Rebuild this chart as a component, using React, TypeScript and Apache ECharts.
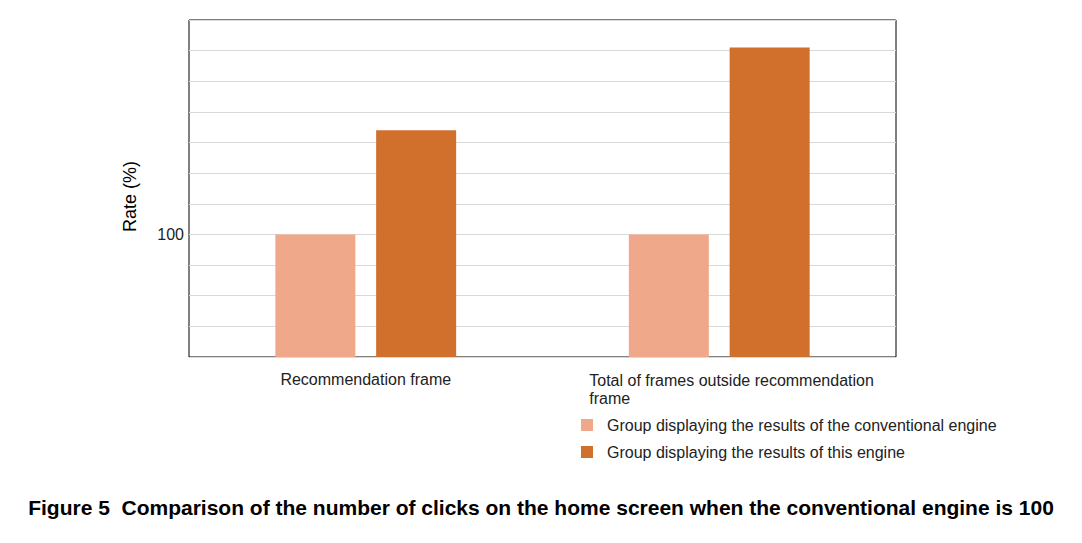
import React, { useEffect, useRef } from 'react';
import * as echarts from 'echarts';

const categories = ['Recommendation frame', 'Total of frames outside recommendation frame'];
const seriesNames = [
  'Group displaying the results of the conventional engine',
  'Group displaying the results of this engine',
];
const conventionalValues = [100, 100];
const thisEngineValues = [134, 161];
const yLabels = [100];

const FONT = '"Liberation Sans", Arial, sans-serif';

const App: React.FC = () => {
  const chartRef = useRef<HTMLDivElement>(null);

  useEffect(() => {
    document.body.style.margin = '0';
    if (!chartRef.current) return;
    const chart = echarts.init(chartRef.current, undefined, { renderer: 'svg' });

    chart.setOption({
      animation: false,
      title: {
        text: 'Figure 5  Comparison of the number of clicks on the home screen when the conventional engine is 100',
        left: 'center',
        top: 492,
        textStyle: { fontFamily: FONT, fontSize: 21, fontWeight: 'bold', color: '#000' },
      },
      legend: {
        orient: 'vertical',
        left: 581,
        top: 417,
        padding: 0,
        icon: 'rect',
        itemWidth: 12,
        itemHeight: 12,
        itemGap: 11,
        data: seriesNames,
        textStyle: { fontFamily: FONT, fontSize: 16, lineHeight: 16, color: '#222', padding: [0, 0, 0, 9] },
      },
      grid: {
        left: 189,
        top: 20,
        right: 186,
        bottom: 186,
        show: true,
        borderColor: '#000',
        borderWidth: 1,
      },
      xAxis: {
        type: 'category',
        data: categories,
        axisLine: { show: false },
        axisTick: { show: false },
        axisLabel: {
          margin: 14,
          interval: 0,
          fontFamily: FONT,
          fontSize: 16,
          color: '#222',
          formatter: (v: string) => {
            if (v === categories[1]) {
              return '{b|Total of frames outside recommendation}\n{b|frame}';
            }
            return v;
          },
          rich: {
            b: { width: 260, align: 'left', fontFamily: FONT, fontSize: 16, color: '#222', lineHeight: 18 },
          },
        },
      },
      yAxis: {
        type: 'value',
        min: 60,
        max: 170,
        interval: 10,
        name: 'Rate (%)',
        nameLocation: 'middle',
        nameGap: 50,
        nameTextStyle: { fontFamily: FONT, fontSize: 18, color: '#000', padding: [0, 16, 0, 0] },
        axisLine: { show: false },
        axisTick: { show: false },
        axisLabel: {
          margin: 5,
          fontFamily: FONT,
          fontSize: 16,
          color: '#222',
          formatter: (v: number) => (yLabels.includes(v) ? String(v) : ''),
        },
        splitLine: { lineStyle: { color: '#d9d9d9', width: 1 } },
      },
      series: [
        {
          name: seriesNames[0],
          type: 'bar',
          data: conventionalValues,
          barWidth: 80,
          barGap: '26%',
          itemStyle: { color: '#EFA98A' },
        },
        {
          name: seriesNames[1],
          type: 'bar',
          data: thisEngineValues,
          barWidth: 80,
          barGap: '26%',
          itemStyle: { color: '#D16F2C' },
        },
      ],
    });

    return () => {
      chart.dispose();
    };
  }, []);

  return <div ref={chartRef} style={{ width: '1082px', height: '543px' }} />;
};

export default App;
